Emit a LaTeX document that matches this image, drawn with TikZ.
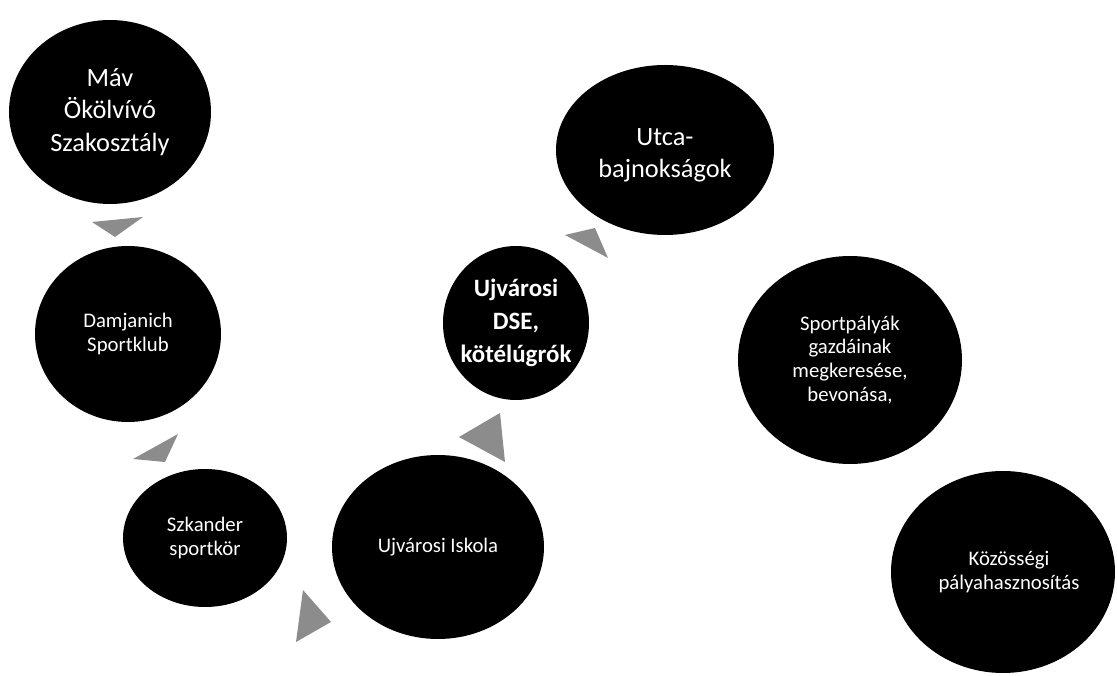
\documentclass[tikz,border=0pt]{standalone}
\usepackage{fontspec}
\setmainfont{Carlito}
\usetikzlibrary{shapes.geometric}

\tikzset{
  bubble/.style={ellipse,fill=black,draw=none,inner sep=0pt},
  bigtext/.style={text=white,align=center,inner sep=0pt,font=\fontsize{15.0}{18.4}\selectfont},
  boldtext/.style={text=white,align=center,inner sep=0pt,font=\fontsize{14.2}{18.8}\selectfont\bfseries},
  smalltext/.style={text=white,align=center,inner sep=0pt,font=\fontsize{11.8}{13.6}\selectfont},
  arrowtri/.style={fill=black!45,draw=none}
}

\begin{document}
\begin{tikzpicture}
\useasboundingbox (0.000,0.000) rectangle (22.360,-13.520);
% circles
\node[bubble,minimum width=4.04cm,minimum height=3.68cm] (mav) at (2.200,-2.240) {};
\node[bubble,minimum width=3.72cm,minimum height=3.52cm] (damjanich) at (2.560,-6.680) {};
\node[bubble,minimum width=3.28cm,minimum height=2.76cm] (szkander) at (4.100,-10.760) {};
\node[bubble,minimum width=4.24cm,minimum height=3.68cm] (iskola) at (8.760,-10.940) {};
\node[bubble,minimum width=2.92cm,minimum height=3.08cm] (dse) at (10.320,-6.460) {};
\node[bubble,minimum width=4.36cm,minimum height=3.40cm] (utca) at (13.300,-3.000) {};
\node[bubble,minimum width=4.48cm,minimum height=4.16cm] (sportpalya) at (17.000,-7.200) {};
\node[bubble,minimum width=4.48cm,minimum height=4.04cm] (kozossegi) at (20.060,-11.440) {};
% texts
\node[bigtext] (mavtext) at (mav) {Máv\\Ökölvívó\\Szakosztály};
\node[smalltext] (damjanichtext) at (damjanich) {Damjanich\\Sportklub};
\node[smalltext] (szkandertext) at (szkander) {Szkander\\sportkör};
\node[smalltext] (iskolatext) at (iskola) {Ujvárosi Iskola};
\node[boldtext] (dsetext) at (dse) {Ujvárosi\\DSE,\\kötélúgrók};
\node[bigtext,yshift=-0.100cm] (utcatext) at (utca) {Utca-\\bajnokságok};
\node[smalltext] (sportpalyatext) at (sportpalya) {Sportpályák\\gazdáinak\\megkeresése,\\bevonása,};
\node[smalltext,xshift=0.120cm] (kozossegitext) at (kozossegi) {Közösségi\\pályahasznosítás};
% arrows
\fill[arrowtri] (1.840,-4.440) -- (2.860,-4.340) -- (2.300,-4.740) -- cycle;
\fill[arrowtri] (2.660,-9.180) -- (3.560,-8.680) -- (3.300,-9.240) -- cycle;
\fill[arrowtri] (6.060,-11.800) -- (5.920,-12.840) -- (6.620,-12.440) -- cycle;
\fill[arrowtri] (10.000,-8.260) -- (9.180,-8.740) -- (10.100,-9.240) -- cycle;
\fill[arrowtri] (11.300,-4.700) -- (11.900,-4.560) -- (12.160,-5.160) -- cycle;
\end{tikzpicture}
\end{document}
